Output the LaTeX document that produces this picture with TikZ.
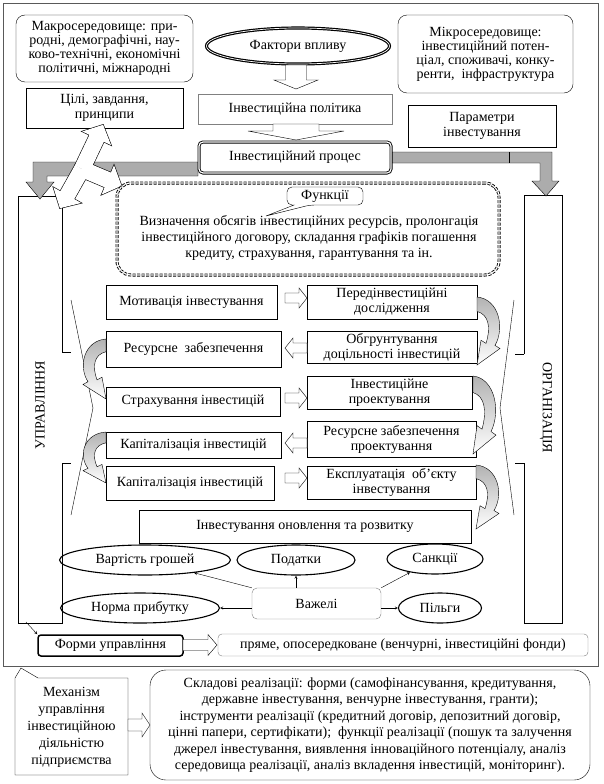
\documentclass[tikz,border=0pt]{standalone}
\usepackage{fontspec}
\setmainfont{Liberation Serif}
\usetikzlibrary{shapes.geometric}

% curved block arrow: x, y of start, length, side (1 right, -1 left)
\newcommand{\bendarrow}[4]{%
  \begin{scope}[shift={(#1,#2)},xscale=#4,yscale=#3/66]
    \draw[top color=gray!60,middle color=white,bottom color=white]
      (0,0) .. controls (22,2) and (28,30) .. (18,47) -- (23,50) -- (0,66)
      -- (4,42) -- (9,45) .. controls (14,30) and (12,17) .. (0,14) -- cycle;
  \end{scope}}
% straight block arrow: centre x, y, angle, length, shaft half, head half, head length
\newcommand{\blkarrow}[7]{%
  \draw[fill=white] [shift={(#1,#2)},rotate=#3] (-#4/2,-#5) -- (#4/2-#7,-#5) -- (#4/2-#7,-#6)
    -- (#4/2,0) -- (#4/2-#7,#6) -- (#4/2-#7,#5) -- (-#4/2,#5) -- cycle;}

\begin{document}
\begin{tikzpicture}[x=1pt,y=-1pt,>=stealth,font=\fontsize{14}{15}\selectfont]
    \tikzstyle{box}=[draw,rectangle,align=center,inner sep=1pt]
    \tikzstyle{rbox}=[box,rounded corners=9pt]
    \tikzstyle{oval}=[draw,ellipse,line width=1.1pt,inner sep=0pt]
    \tikzstyle{band}=[draw,fill=gray!65]

    \useasboundingbox (0,0) rectangle (603,784);
    \fill[white] (0,0) rectangle (603,784);
    \draw[gray!70!black] (3,3) rectangle (598,666);

    % side bars
    \draw (62,352) -- (62,196) -- (18,196) -- (18,623) -- (62,623) -- (62,463) -- (71,463);
    \draw (62,352) -- (71,352);
    \draw (71,300) -- (93,408) -- (71,515);
    \draw (524,354) -- (524,195) -- (562,195) -- (562,623) -- (524,623) -- (524,463) -- (515,463);
    \draw (524,354) -- (515,354);
    \draw (514,300) -- (500,408) -- (514,515);
    \node at (40,405) (mgmt) [rotate=90] {УПРАВЛІННЯ};
    \node at (546,408) (org) [rotate=-90] {ОРГАНІЗАЦІЯ};

    % top
    \node at (104.5,48.5) (macro) [rbox, minimum width=177pt, minimum height=67pt, font=\fontsize{14}{14}\selectfont]
      {Макросередовище: при-\\родні, демографічні, нау-\\ково-технічні, економічні\\політичні, міжнародні};
    \node at (485.5,54) (micro) [rbox, minimum width=175pt, minimum height=78pt, font=\fontsize{14}{14}\selectfont]
      {Мікросередовище:\\інвестиційний потен-\\ціал, споживачі, конку-\\ренти,\ \ інфраструктура};
    \node at (298,46) (factors) [oval, double, line width=1.2pt, double distance=0.7pt, minimum width=183pt, minimum height=36pt] {Фактори впливу};
    \node at (104.5,108) (goals) [box, minimum width=157pt, minimum height=40pt] {Цілі, завдання,\\принципи};
    \node at (295,109) (policy) [box, draw=gray, minimum width=194pt, minimum height=30pt] {Інвестиційна політика};
    \node at (482,126) (params) [box, minimum width=148pt, minimum height=42pt] {Параметри\\інвестування};
    \blkarrow{296}{77}{-90}{24}{10.5}{22}{9}
    \blkarrow{296}{132}{-90}{16}{23}{48}{9}

    % gray arrows to the side bars
    \draw[band] (33,162) -- (198,162) -- (198,176) -- (47,176) -- (47,182) -- (54,182) -- (40,199)
      -- (26,182) -- (33,182) -- cycle;
    \draw[band] (392,152) -- (552,152) -- (552,181) -- (559,181) -- (546,196) -- (532,181)
      -- (540,181) -- (540,163) -- (392,163) -- cycle;
    \draw (509,152) -- (509,163);
    \node at (295,157.5) (process) [box, rounded corners=4pt, fill=white, double, line width=0.9pt,
      double distance=1.2pt, minimum width=192pt, minimum height=31pt] {Інвестиційний процес};

    % three-way arrow
    \foreach \a/\l in {64.5/49,-23/43,240.6/45}
      \draw[line width=1.2pt] [shift={(82,169)},rotate=\a] (0,-8) -- (\l-15,-8) -- (\l-15,-16)
        -- (\l,0) -- (\l-15,16) -- (\l-15,8) -- (0,8) -- cycle;
    \foreach \a/\l in {64.5/49,-23/43,240.6/45}
      \fill[white] [shift={(82,169)},rotate=\a] (0,-8) -- (\l-15,-8) -- (\l-15,-16)
        -- (\l,0) -- (\l-15,16) -- (\l-15,8) -- (0,8) -- cycle;

    % functions
    \node at (308,229) (funcs) [box, dashed, dash pattern=on 3pt off 1.5pt, double, line width=0.9pt,
      double distance=1.2pt, rounded corners=14pt, minimum width=382pt, minimum height=92pt] {};
    \draw[fill=white] (294,205) [rounded corners=5pt]-- (287,205) -- (287,187) -- (363,187)
      -- (363,205) -- (310,205) [sharp corners]-- (266,216) -- cycle;
    \node at (325,196) (fhead) {Функції};
    \node at (309,238) (ftext) [align=center, font=\fontsize{14}{16}\selectfont]
      {Визначення обсягів інвестиційних ресурсів, пролонгація\\інвестиційного договору, складання графіків погашення\\кредиту, страхування, гарантування та ін.};

    % stages
    \node at (191.5,302) (motiv) [box, minimum width=171pt, minimum height=34pt] {Мотивація інвестування};
    \node at (392,302) (preinv) [box, minimum width=170pt, minimum height=34pt] {Передінвестиційні\\дослідження};
    \node at (193.5,349) (resl) [box, minimum width=175pt, minimum height=36pt] {Ресурсне\ \ забезпечення};
    \node at (392,347) (justif) [box, minimum width=170pt, minimum height=32pt] {Обгрунтування\\доцільності інвестицій};
    \node at (193,401.5) (insur) [box, minimum width=174pt, minimum height=29pt] {Страхування інвестицій};
    \node at (389.5,392.5) (proj) [box, minimum width=165pt, minimum height=33pt] {Інвестиційне\\проектування};
    \node at (193.5,445) (capa) [box, minimum width=175pt, minimum height=26pt] {Капіталізація інвестицій};
    \node at (391.5,439) (resproj) [box, minimum width=169pt, minimum height=36pt] {Ресурсне забезпечення\\проектування};
    \node at (190,483) (capb) [box, minimum width=168pt, minimum height=34pt] {Капіталізація інвестицій};
    \node at (391.5,482.5) (exploit) [box, minimum width=169pt, minimum height=33pt] {Експлуатація\ \ об’єкту\\інвестування};
    \node at (305,526.5) (renew) [box, minimum width=332pt, minimum height=33pt] {Інвестування оновлення та розвитку};

    \foreach \y/\r in {298/0,348/180,398/0,443/180,478/0}{
      \blkarrow{296}{\y}{\r}{22}{5}{10}{8}
    }

    \bendarrow{477}{297}{68}{1}
    \bendarrow{473}{376}{78}{1}
    \bendarrow{476}{465}{64}{1}
    \bendarrow{106}{339}{60}{-1}
    \bendarrow{106}{432}{51}{-1}

    % levers
    \node at (145,560) (cost) [oval, minimum width=171pt, minimum height=30pt] {Вартість грошей};
    \node at (296,560) (taxes) [oval, minimum width=118pt, minimum height=30pt] {Податки};
    \node at (435,559) (sanct) [oval, minimum width=96pt, minimum height=30pt] {Санкції};
    \node at (140,608) (norm) [oval, minimum width=159pt, minimum height=30pt] {Норма прибутку};
    \node at (440,608) (benef) [oval, minimum width=83pt, minimum height=30pt] {Пільги};
    \node at (316.5,603.5) (levers) [box, draw=gray, rounded corners=5pt, minimum width=129pt, minimum height=31pt] {Важелі};
    \draw[->] (levers.north west) -- (cost);
    \draw[->] (levers.north -| taxes.south) -- (taxes.south);
    \draw[->] (levers.north east) -- (sanct);
    \draw[->] (levers.west |- norm) -- (norm);
    \draw[->] (levers.east |- benef) -- (benef);

    % forms
    \node at (110.5,645.5) (forms) [box, line width=1.5pt, rounded corners=3pt, minimum width=145pt, minimum height=21pt] {Форми управління};
    \node at (403,645) (direct) [box, draw=gray, rounded corners=4pt, minimum width=370pt, minimum height=22pt]
      {пряме, опосередковане (венчурні, інвестиційні фонди)};
    \blkarrow{200}{645}{0}{34}{5.5}{10.5}{9}
    \coordinate (lfoot) at (26,622);
    \draw[->] (lfoot) -- (forms.north west);

    % bottom
    \draw (15,678) -- (21,668) -- (38,678) -- (128,678) -- (128,775) -- (15,775) -- cycle;
    \node at (71.5,727) (mech) [align=center, font=\fontsize{14}{17}\selectfont]
      {Механізм\\управління\\інвестиційною\\діяльністю\\підприємства};
    \node at (370,725) (comp) [box, rounded corners=16pt, minimum width=440pt, minimum height=110pt,
      font=\fontsize{14}{16.5}\selectfont]
      {Складові реалізації: форми (самофінансування, кредитування,\\державне інвестування, венчурне інвестування, гранти);\\інструменти реалізації (кредитний договір, депозитний договір,\\цінні папери, сертифікати);\ \ функції реалізації (пошук та залучення\\джерел інвестування, виявлення інноваційного потенціалу, аналіз\\середовища реалізації, аналіз вкладення інвестицій, моніторинг).};
    \blkarrow{139}{725}{0}{22}{6}{12}{8}
\end{tikzpicture}
\end{document}
